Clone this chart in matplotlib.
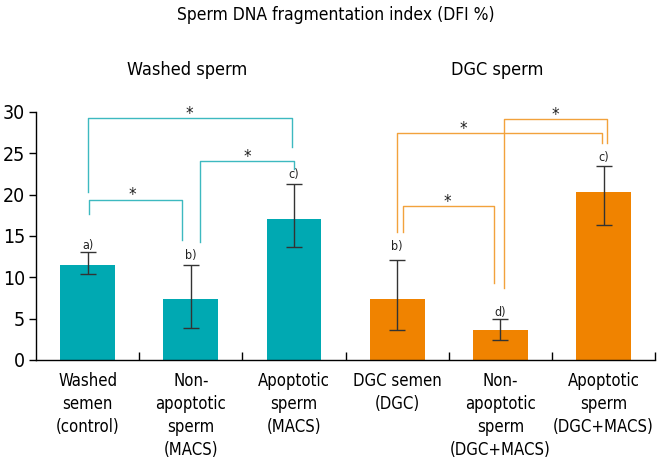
import numpy as np
import matplotlib.pyplot as plt

plt.rcParams['font.family'] = ['DejaVu Sans']
plt.rcParams['font.stretch'] = 'condensed'

categories = ['Washed\nsemen\n(control)', 'Non-\napoptotic\nsperm\n(MACS)', 'Apoptotic\nsperm\n(MACS)',
              'DGC semen\n(DGC)', 'Non-\napoptotic\nsperm\n(DGC+MACS)', 'Apoptotic\nsperm\n(DGC+MACS)']
dfi = [11.5, 7.4, 17.1, 7.4, 3.6, 20.3]
err_low = [1.1, 3.5, 3.4, 3.8, 1.2, 4.0]
err_high = [1.6, 4.1, 4.2, 4.7, 1.4, 3.2]
letters = ['a)', 'b)', 'c)', 'b)', 'd)', 'c)']
letter_y = [13.9, 12.6, 22.4, 13.7, 5.8, 24.5]

# brackets: x_left, x_right, y_left_bottom, y_right_bottom, y_top, star_x, group
brackets = [
    (0.01, 0.91, 17.7, 14.5, 19.4, 0.43, 0),
    (1.09, 2.00, 14.3, 23.1, 24.1, 1.55, 0),
    (0.00, 1.98, 20.3, 25.8, 29.3, 0.99, 0),
    (3.00, 4.98, 15.5, 26.3, 27.5, 3.64, 1),
    (3.06, 3.94, 15.5, 9.3, 18.6, 3.49, 1),
    (4.03, 5.03, 8.7, 26.2, 29.1, 4.53, 1),
]

bar_colors = ['#00A9B2'] * 3 + ['#F08300'] * 3
line_colors = ['#3DB9C0', '#F2A23C']

fig = plt.figure(figsize=(6.72, 4.58), dpi=100)
ax = fig.add_axes([0.0536, 0.214, 0.9214, 0.5415])

x = np.arange(len(dfi))
ax.bar(x, dfi, width=0.53, color=bar_colors, zorder=2)
ax.errorbar(x, dfi, yerr=[err_low, err_high], fmt='none', ecolor='#333333',
            elinewidth=1.0, capsize=6, capthick=1.0, zorder=3)

for xi, lab, ly in zip(x, letters, letter_y):
    ax.text(xi, ly, lab, ha='center', va='center', fontsize=9, color='#222222')

for xl, xr, yl, yr, yt, sx, g in brackets:
    ax.plot([xl, xl, xr, xr], [yl, yt, yt, yr], color=line_colors[g], lw=1.0,
            clip_on=False, zorder=1)
    ax.text(sx, yt + 0.5, '*', ha='center', va='center', fontsize=12, color='#222222',
            clip_on=False)

ax.set_xlim(-0.5, 5.5)
ax.set_ylim(0, 30)
ax.set_yticks(range(0, 31, 5))
ax.tick_params(axis='y', labelsize=14, length=5, width=1, direction='out', pad=3)
ax.set_xticks(x)
ax.set_xticklabels(categories, fontsize=12, linespacing=1.35)
ax.tick_params(axis='x', length=0, pad=9)
ax.set_xticks(np.arange(0.5, 6, 1), minor=True)
ax.tick_params(axis='x', which='minor', direction='in', length=6, width=1)

for s in ['top', 'right']:
    ax.spines[s].set_visible(False)
ax.spines['left'].set_linewidth(1)
ax.spines['bottom'].set_linewidth(1)

fig.text(0.5, 1 - 15 / 458, 'Sperm DNA fragmentation index (DFI %)', ha='center', va='center', fontsize=12.5)
fig.text(187 / 672, 1 - 70 / 458, 'Washed sperm', ha='center', va='center', fontsize=13)
fig.text(497 / 672, 1 - 70 / 458, 'DGC sperm', ha='center', va='center', fontsize=13)

fig.savefig('out.png', dpi=100)
